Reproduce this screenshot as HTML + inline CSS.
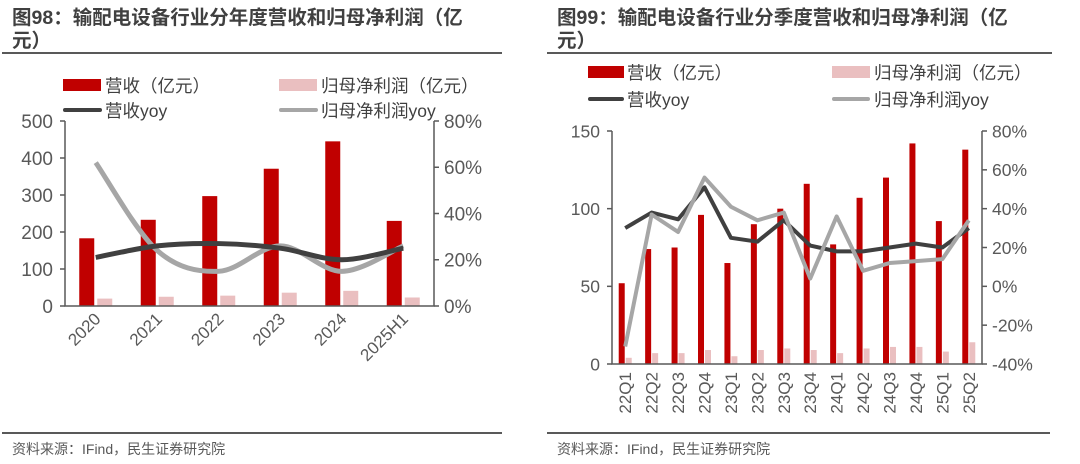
<!DOCTYPE html>
<html><head><meta charset="utf-8"><style>
html,body{margin:0;padding:0;background:#fff;}
svg{display:block;font-family:"Liberation Sans","Noto Sans CJK SC",sans-serif;}
</style></head><body>
<svg id="chart" width="1080" height="464" viewBox="0 0 1080 464" xmlns="http://www.w3.org/2000/svg">
<g font-weight="bold" font-size="19.5" fill="#404040">
<text x="12" y="24">图98：输配电设备行业分年度营收和归母净利润（亿</text>
<text x="12" y="47">元）</text>
</g>
<line x1="2" y1="53" x2="502" y2="53" stroke="#595959" stroke-width="2"/>
<g font-weight="bold" font-size="19.5" fill="#404040">
<text x="557" y="24">图99：输配电设备行业分季度营收和归母净利润（亿</text>
<text x="557" y="47">元）</text>
</g>
<line x1="547" y1="53" x2="1052" y2="53" stroke="#595959" stroke-width="2"/>
<line x1="2" y1="433" x2="502" y2="433" stroke="#595959" stroke-width="2"/>
<line x1="547" y1="433" x2="1050" y2="433" stroke="#595959" stroke-width="2"/>
<text x="12" y="454" font-size="14" fill="#595959">资料来源：IFind，民生证券研究院</text>
<text x="557" y="454" font-size="14" fill="#595959">资料来源：IFind，民生证券研究院</text>

<g font-size="17.5" fill="#404040">
<rect x="63" y="79" width="38" height="12" fill="#c00000"/>
<text x="105" y="92">营收（亿元）</text>
<rect x="279" y="79" width="38" height="12" fill="#eabfc0"/>
<text x="321" y="92">归母净利润（亿元）</text>
<line x1="65" y1="110" x2="100" y2="110" stroke="#404040" stroke-width="4" stroke-linecap="round"/>
<text x="105" y="117">营收yoy</text>
<line x1="281" y1="110" x2="316" y2="110" stroke="#a6a6a6" stroke-width="4" stroke-linecap="round"/>
<text x="321" y="117">归母净利润yoy</text>
</g>
<g font-size="17.5" fill="#404040">
<rect x="588" y="66" width="36" height="12" fill="#c00000"/>
<text x="627" y="79">营收（亿元）</text>
<rect x="832" y="66" width="38" height="12" fill="#eabfc0"/>
<text x="874" y="79">归母净利润（亿元）</text>
<line x1="590" y1="99" x2="622" y2="99" stroke="#404040" stroke-width="4" stroke-linecap="round"/>
<text x="627" y="106">营收yoy</text>
<line x1="834" y1="99" x2="868" y2="99" stroke="#a6a6a6" stroke-width="4" stroke-linecap="round"/>
<text x="874" y="106">归母净利润yoy</text>
</g>
<g id="left"></g>
<g id="right"></g>
</svg>
<script>
const annualCats = ["2020","2021","2022","2023","2024","2025H1"];
const annualRevenue = [183,233,297,371,445,230];
const annualProfit = [20,25,28,36,41,23];
const annualRevYoy = [21,26,27,25,20,25];
const annualProfitYoy = [62,24,15,26,15,26];
const annualLeftTicks = [0,100,200,300,400,500];
const annualRightTicks = [0,20,40,60,80];

const qCats = ["22Q1","22Q2","22Q3","22Q4","23Q1","23Q2","23Q3","23Q4","24Q1","24Q2","24Q3","24Q4","25Q1","25Q2"];
const qRevenue = [52,74,75,96,65,90,100,116,77,107,120,142,92,138];
const qProfit = [4,7,7,9,5,9,10,9,7,10,11,11,8,14];
const qRevYoy = [30,38,34.5,51,25,23,34,21,18,18,20,22,20,30];
const qProfitYoy = [-31,37,28,56,41,34,38,4,36,8,12,13,14,34];
const qLeftTicks = [0,50,100,150];
const qRightTicks = [-40,-20,0,20,40,60,80];

const NS="http://www.w3.org/2000/svg";
function mk(parent,tag,attrs){const e=document.createElementNS(NS,tag);for(const k in attrs)e.setAttribute(k,attrs[k]);parent.appendChild(e);return e;}
function smooth(pts){let d="M"+pts[0][0]+","+pts[0][1];for(let i=0;i<pts.length-1;i++){const p0=pts[i-1]||pts[i],p1=pts[i],p2=pts[i+1],p3=pts[i+2]||p2;const t=6;d+=" C"+(p1[0]+(p2[0]-p0[0])/t)+","+(p1[1]+(p2[1]-p0[1])/t)+" "+(p2[0]-(p3[0]-p1[0])/t)+","+(p2[1]-(p3[1]-p1[1])/t)+" "+p2[0]+","+p2[1];}return d;}

function draw(g,cfg){
  const {x0,x1,y0,y1,cats,rev,prof,ry,py,lt,rt,lmin,lmax,rmin,rmax,barW,gap,fs,xfs,curved,rot,lw}=cfg;
  const n=cats.length,cw=(x1-x0)/n;
  const yl=v=>y1-(v-lmin)/(lmax-lmin)*(y1-y0);
  const yr=v=>y1-(v-rmin)/(rmax-rmin)*(y1-y0);
  const cx=i=>x0+cw*(i+0.5);
  rev.forEach((v,i)=>{const r=mk(g,"rect",{x:cx(i)-gap/2-barW,y:yl(v),width:barW,height:y1-yl(v),fill:"#c00000"});
    
    });
  prof.forEach((v,i)=>{const r=mk(g,"rect",{x:cx(i)+gap/2,y:yl(v),width:barW,height:y1-yl(v),fill:"#eabfc0"});
    
    });
  mk(g,"path",{d:`M${x0},${y0} L${x0},${y1} L${x1},${y1} L${x1},${y0}`,fill:"none",stroke:"#595959","stroke-width":1.5});
  lt.forEach(v=>{mk(g,"line",{x1:x0-5,x2:x0,y1:yl(v),y2:yl(v),stroke:"#595959","stroke-width":1.5});
    const t=mk(g,"text",{x:x0-12,y:yl(v)+fs*0.36,"text-anchor":"end","font-size":fs,fill:"#595959"});t.textContent=v;
    
    });
  rt.forEach(v=>{mk(g,"line",{x1:x1,x2:x1+5,y1:yr(v),y2:yr(v),stroke:"#595959","stroke-width":1.5});
    const t=mk(g,"text",{x:x1+10,y:yr(v)+fs*0.36,"font-size":fs,fill:"#595959"});t.textContent=v+"%";
    
    });
  cats.forEach((c,i)=>{let t;
    if(rot===45){t=mk(g,"text",{x:cx(i)+6,y:y1+14,"text-anchor":"end","font-size":xfs,fill:"#595959",transform:`rotate(-45 ${cx(i)+6} ${y1+14})`});}
    else{t=mk(g,"text",{x:cx(i)+6,y:y1+8,"text-anchor":"end","font-size":xfs,fill:"#595959",transform:`rotate(-90 ${cx(i)+6} ${y1+8})`});}
    t.textContent=c;
    
    });
  const p1=ry.map((v,i)=>[cx(i),yr(v)]),p2=py.map((v,i)=>[cx(i),yr(v)]);
  const l2=mk(g,"path",{d:curved?smooth(p2):"M"+p2.map(p=>p.join(",")).join(" L"),fill:"none",stroke:"#a6a6a6","stroke-width":lw,"stroke-linejoin":"round"});
  
  
  const l1=mk(g,"path",{d:curved?smooth(p1):"M"+p1.map(p=>p.join(",")).join(" L"),fill:"none",stroke:"#404040","stroke-width":lw,"stroke-linejoin":"round"});
  
  
  if(!curved){g.appendChild(l2);}
}
const L=document.getElementById("left");


draw(L,{x0:65,x1:434,y0:121,y1:306,cats:annualCats,rev:annualRevenue,prof:annualProfit,ry:annualRevYoy,py:annualProfitYoy,lt:annualLeftTicks,rt:annualRightTicks,lmin:0,lmax:500,rmin:0,rmax:80,barW:15,gap:3,fs:19,xfs:17,curved:true,rot:45,lw:5});
const R=document.getElementById("right");


draw(R,{x0:612,x1:982,y0:131,y1:364,cats:qCats,rev:qRevenue,prof:qProfit,ry:qRevYoy,py:qProfitYoy,lt:qLeftTicks,rt:qRightTicks,lmin:0,lmax:150,rmin:-40,rmax:80,barW:6,gap:1,fs:17.5,xfs:17,curved:false,rot:90,lw:4});
</script>
</body></html>
